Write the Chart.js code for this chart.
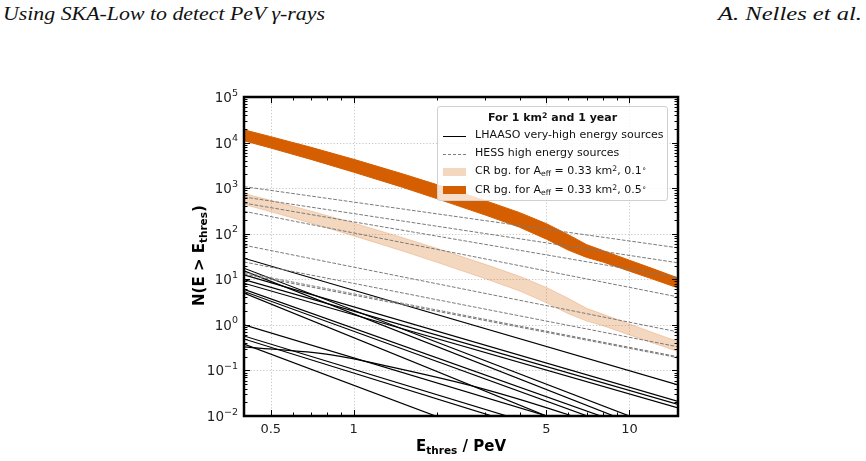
<!DOCTYPE html>
<html><head><meta charset="utf-8">
<script src="https://cdn.jsdelivr.net/npm/chart.js@4.4.0/dist/chart.umd.min.js"></script>
<style>
html,body{margin:0;padding:0;background:#fff;width:866px;height:461px;overflow:hidden;}
body{position:relative;font-family:'DejaVu Sans',sans-serif;}
#c{position:absolute;left:0;top:0;}
.hdr{position:absolute;top:3px;font-family:'Liberation Serif','Times New Roman',serif;font-style:italic;font-size:19px;color:#111;white-space:nowrap;transform-origin:0 0;}
#ytitle{position:absolute;font-weight:bold;font-size:15px;color:#000;white-space:nowrap;transform-origin:0 0;}
#xtitle{position:absolute;font-weight:bold;font-size:15px;color:#000;white-space:nowrap;}
sub{font-size:70%;vertical-align:-0.25em;line-height:0;}
sup{font-size:70%;vertical-align:0.45em;line-height:0;}
#legend{position:absolute;left:437px;top:106px;width:231px;height:95px;border:1px solid #d0d0d0;border-radius:3px;background:rgba(255,255,255,0.8);box-sizing:border-box;font-size:11px;color:#111;}
#legend .t{position:absolute;left:0;width:100%;top:4px;text-align:center;font-weight:bold;font-size:11px;}
#legend .it{position:absolute;left:37px;white-space:nowrap;}
#legend .sw{position:absolute;left:5px;width:23px;}
</style></head><body>
<div class="hdr" id="hl" style="left:3px">Using SKA-Low to detect PeV γ-rays</div>
<div class="hdr" id="hr">A. Nelles et al.</div>
<canvas id="c" width="866" height="461"></canvas>
<div id="ytitle">N(E &gt; E<sub>thres</sub>)</div>
<div id="xtitle">E<sub>thres</sub> / PeV</div>
<div id="legend">
  <div class="t">For 1 km<sup>2</sup> and 1 year</div>
  <div class="sw" style="top:29px;border-top:1.3px solid #000;"></div>
  <div class="it" style="top:21px">LHAASO very-high energy sources</div>
  <div class="sw" style="top:47px;border-top:1px dashed #808080;"></div>
  <div class="it" style="top:39px">HESS high energy sources</div>
  <div class="sw" style="top:61px;height:8px;background:rgba(213,94,0,0.25);"></div>
  <div class="it" style="top:57px">CR bg. for A<sub>eff</sub> = 0.33 km<sup>2</sup>, 0.1<sup>∘</sup></div>
  <div class="sw" style="top:79px;height:8px;background:#d55e00;"></div>
  <div class="it" style="top:76px">CR bg. for A<sub>eff</sub> = 0.33 km<sup>2</sup>, 0.5<sup>∘</sup></div>
</div>
<script>
// ---------- data ----------
const xMin = 0.4, xMax = 15;
const yMin = 1e-2, yMax = 1e5;
const xTickLabels = ['0.5', '1', '5', '10'];
const xMajorVals = [0.5, 1, 5, 10];
const xMinorVals = [0.4, 0.6, 0.7, 0.8, 0.9, 2, 3, 4, 6, 7, 8, 9];
const yMajorVals = [1e-2, 1e-1, 1e0, 1e1, 1e2, 1e3, 1e4, 1e5];
const yTickExponents = ['−2', '−1', '0', '1', '2', '3', '4', '5'];

// CR background bands
const bandE      = [0.4, 0.5, 0.7, 1, 1.5, 2, 3, 4, 5, 6, 7, 8, 10, 12, 15];
const bg05Upper  = [19055, 13490, 7870, 4295, 2070, 1197, 532, 290, 166, 95.5, 57.5, 42.9, 26.2, 17.6, 10.7];
const bg05Lower  = [10965, 7586, 4266, 2239, 1047, 589, 257, 138, 75.9, 43.7, 30.2, 24, 15.1, 10.35, 6.46];
const bg01Upper  = [762, 540, 315, 172, 82.8, 47.9, 21.3, 11.6, 6.64, 3.82, 2.3, 1.72, 1.05, 0.70, 0.43];
const bg01Lower  = [438.6, 303.4, 170.6, 89.6, 41.9, 23.6, 10.3, 5.52, 3.04, 1.75, 1.21, 0.96, 0.60, 0.41, 0.26];

// HESS sources (dashed): N at E = 0.4 and 15 PeV
const hessE = [0.4, 15];
const hess1 = [1080, 49];
const hess2 = [640, 23];
const hess3 = [470, 11];
const hess4 = [310, 4.1];
const hess5 = [56, 0.7];
const hess6 = [24, 0.33];
const hess7 = [14, 0.2];
const hess8 = [13, 0.19];

// LHAASO sources (solid): N at E = 0.4 and 15 PeV
const lhE = [0.4, 15];
const lh1  = [29, 0.048];
const lh2  = [17.5, 0.0039];
const lh3  = [15.4, 0.0028];
const lh4  = [12.5, 0.021];
const lh5  = [9.8, 0.018];
const lh6  = [8.2, 0.015];
const lh7  = [6.0, 0.0025];
const lh8  = [5.4, 0.0019];
const lh9  = [5.0, 0.00067];
const lh10 = [1.0, 0.00136];
const lh11 = [0.57, 0.00072];
const lh12 = [0.49, 0.00054];
const lh13 = [0.38, 0.0001];
// curved (log-parabola-like) source
const lhCurvedE = [0.4, 0.83, 1.36, 2.88, 6.2, 15];
const lh14 = [0.33, 0.22, 0.12, 0.041, 0.01, 0.0015];

// ---------- build ----------
const pts = (xs, ys) => xs.map((x, i) => ({x, y: ys[i]}));
const datasets = [];
[hess1, hess2, hess3, hess4, hess5, hess6, hess7, hess8].forEach(h =>
  datasets.push({data: pts(hessE, h), borderColor: '#7a7a7a', borderWidth: 1, borderDash: [3.7, 1.6], fill: false, order: 0}));
[lh1, lh2, lh3, lh4, lh5, lh6, lh7, lh8, lh9, lh10, lh11, lh12, lh13].forEach(l =>
  datasets.push({data: pts(lhE, l), borderColor: '#000', borderWidth: 1.2, fill: false, order: 0}));
datasets.push({data: pts(lhCurvedE, lh14), borderColor: '#000', borderWidth: 1.2, fill: false, order: 0, cubicInterpolationMode: 'monotone'});
// bands
datasets.push({data: pts(bandE, bg01Upper), borderColor: 'rgba(213,94,0,0.22)', borderWidth: 1, fill: false, order: 5});
datasets.push({data: pts(bandE, bg01Lower), borderColor: 'rgba(213,94,0,0.22)', borderWidth: 1, backgroundColor: 'rgba(213,94,0,0.25)', fill: '-1', order: 5});
datasets.push({data: pts(bandE, bg05Upper), borderColor: '#d55e00', borderWidth: 1, fill: false, order: 4});
datasets.push({data: pts(bandE, bg05Lower), borderColor: '#d55e00', borderWidth: 1, backgroundColor: '#d55e00', fill: '-1', order: 4});

const near = (a, b) => Math.abs(Math.log10(a) - Math.log10(b)) < 1e-6;

const deco = {
  id: 'deco',
  beforeDatasetsDraw(chart) {
    const {ctx, chartArea: a, scales: {x, y}} = chart;
    ctx.save();
    ctx.strokeStyle = '#b8b8b8'; ctx.lineWidth = 0.8; ctx.setLineDash([1.2, 2]);
    xMajorVals.forEach(v => { const p = Math.round(x.getPixelForValue(v)) + 0.5; ctx.beginPath(); ctx.moveTo(p, a.top); ctx.lineTo(p, a.bottom); ctx.stroke(); });
    yMajorVals.forEach(v => { const p = Math.round(y.getPixelForValue(v)) + 0.5; if (p < a.top + 2 || p > a.bottom - 2) return; ctx.beginPath(); ctx.moveTo(a.left, p); ctx.lineTo(a.right, p); ctx.stroke(); });
    ctx.restore();
  },
  afterDatasetsDraw(chart) {
    const {ctx, chartArea: a, scales: {x, y}} = chart;
    ctx.save();
    ctx.strokeStyle = '#000'; ctx.lineWidth = 1;
    const tick = (x1, y1, x2, y2) => { ctx.beginPath(); ctx.moveTo(x1, y1); ctx.lineTo(x2, y2); ctx.stroke(); };
    xMajorVals.concat(xMinorVals).forEach(v => {
      const L = xMajorVals.includes(v) ? 6 : 3.5;
      const p = Math.round(x.getPixelForValue(v)) + 0.5;
      tick(p, a.bottom, p, a.bottom - L); tick(p, a.top, p, a.top + L);
    });
    for (let d = -2; d < 5; d++) {
      for (let m = 1; m <= 9; m++) {
        const v = m * Math.pow(10, d);
        const L = m === 1 ? 6 : 3.5;
        const p = Math.round(y.getPixelForValue(v)) + 0.5;
        tick(a.left, p, a.left + L, p); tick(a.right, p, a.right - L, p);
      }
    }
    ctx.lineWidth = 2.5;
    ctx.strokeRect(a.left, a.top, a.right - a.left, a.bottom - a.top);
    // y tick labels: 10 with superscript exponent
    ctx.fillStyle = '#222'; ctx.textBaseline = 'alphabetic';
    yMajorVals.forEach((v, i) => {
      const p = y.getPixelForValue(v);
      ctx.font = '9.5px "DejaVu Sans"';
      const ew = ctx.measureText(yTickExponents[i]).width;
      ctx.font = '13.5px "DejaVu Sans"';
      const bw = ctx.measureText('10').width;
      const right = a.left - 6;
      ctx.fillText('10', right - ew - bw, p + 5);
      ctx.font = '9.5px "DejaVu Sans"';
      ctx.fillText(yTickExponents[i], right - ew, p - 1.5);
    });
    ctx.restore();
  }
};

const tickFont = {family: 'DejaVu Sans', size: 13};
const chart = new Chart(document.getElementById('c'), {
  type: 'line',
  data: {datasets},
  options: {
    responsive: false, animation: false, devicePixelRatio: 1,
    layout: {padding: {left: 0, right: 188, top: 97, bottom: 0}},
    plugins: {legend: {display: false}, tooltip: {enabled: false}},
    elements: {point: {radius: 0}, line: {tension: 0}},
    scales: {
      x: {
        type: 'logarithmic', min: xMin, max: xMax,
        afterFit(s) { s.height = 45; },
        afterBuildTicks(s) { s.ticks = xMajorVals.concat(xMinorVals).sort((a, b) => a - b).map(v => ({value: v})); },
        ticks: {autoSkip: false, maxRotation: 0, padding: 6, font: tickFont, color: '#222',
          callback(v) { const i = xMajorVals.findIndex(m => near(m, v)); return i >= 0 ? xTickLabels[i] : ''; }},
        grid: {display: false, drawTicks: false}, border: {display: false}
      },
      y: {
        type: 'logarithmic', min: yMin, max: yMax,
        afterFit(s) { s.width = 244; },
        afterBuildTicks(s) { s.ticks = yMajorVals.map(v => ({value: v})); },
        ticks: {display: false},
        grid: {display: false, drawTicks: false}, border: {display: false}
      }
    }
  },
  plugins: [deco]
});

// header fit
const hl = document.getElementById('hl'); const hlw = hl.getBoundingClientRect().width; hl.style.transform = 'scaleX(' + (322 / hlw) + ')';
const hr = document.getElementById('hr'); const hrw = hr.getBoundingClientRect().width; hr.style.left = (862 - 144) + 'px'; hr.style.transform = 'scaleX(' + (144 / hrw) + ')';
// axis titles
const yt = document.getElementById('ytitle'); const ytw = yt.getBoundingClientRect().width, yth = yt.getBoundingClientRect().height;
yt.style.left = (199 - yth / 2) + 'px'; yt.style.top = (256 + ytw / 2) + 'px'; yt.style.transform = 'rotate(-90deg)';
const xt = document.getElementById('xtitle'); const xtw = xt.getBoundingClientRect().width, xth = xt.getBoundingClientRect().height;
xt.style.left = (461 - xtw / 2) + 'px'; xt.style.top = (446 - xth / 2) + 'px';
</script>
</body></html>
